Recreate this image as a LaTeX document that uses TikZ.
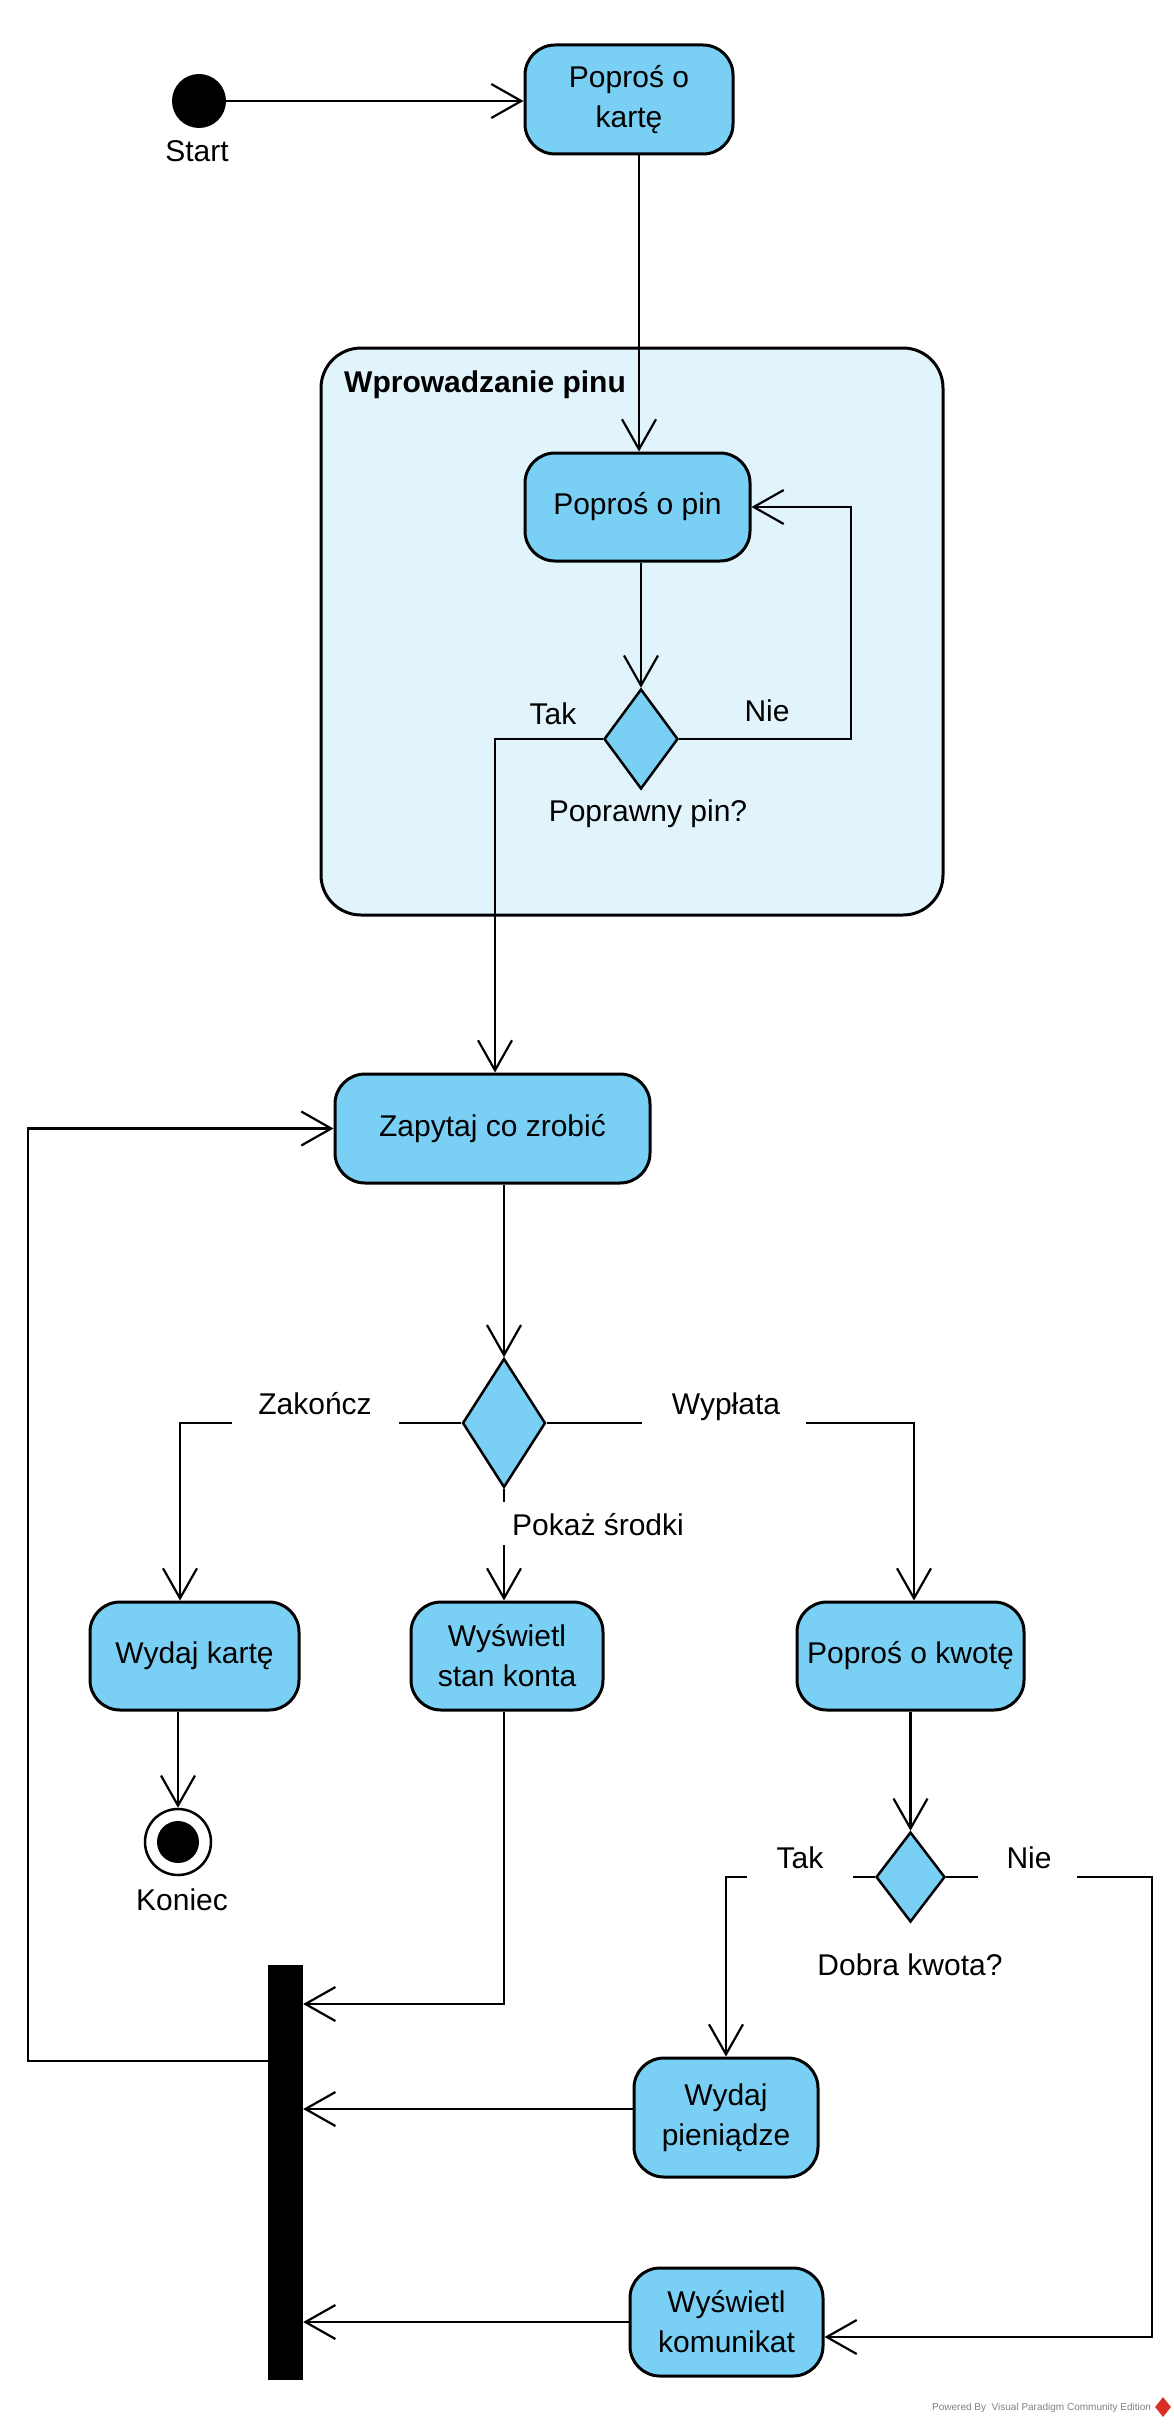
\documentclass[tikz,border=0pt]{standalone}
\usepackage{fontspec}
\setmainfont{Liberation Sans}
\usetikzlibrary{arrows.meta,shapes.geometric}
\definecolor{actfill}{RGB}{122,207,245}
\definecolor{contfill}{RGB}{225,244,252}
\definecolor{vpred}{RGB}{214,48,40}
\begin{document}
\begin{tikzpicture}[x=1pt,y=-1pt,
  every node/.style={font=\fontsize{30}{40}\selectfont},
  act/.style={draw, line width=3pt, fill=actfill, rounded corners=30pt, align=center, inner sep=0pt},
  dec/.style={draw, diamond, line width=2.5pt, fill=actfill, inner sep=0pt},
  arr/.style={line width=2.2pt, -{Straight Barb[length=30pt,width=34pt]}},
  mask/.style={fill=white},
  txt/.style={inner sep=0pt}]
\useasboundingbox (0,0) rectangle (1173,2424);

% container
\node[draw, line width=3pt, fill=contfill, rounded corners=40pt, minimum width=622pt, minimum height=567pt, inner sep=0pt] (cont) at (632,631.5) {};
\node[txt, anchor=west, font=\fontsize{30}{40}\selectfont\bfseries] (title) at (344,385) {Wprowadzanie pinu};

% start
\node[circle, fill=black, minimum size=54pt, inner sep=0pt] (start) at (199,101) {};
\node[txt] (startl) at (197,151) {Start};

% activities
\node[act, minimum width=208pt, minimum height=109pt] (kart) at (629,99.5) {Poproś o\\kartę};
\node[act, minimum width=225pt, minimum height=108pt] (pin) at (637.5,507) {Poproś o pin};
\node[dec, minimum width=74pt, minimum height=100pt] (dec1) at (641,739) {};
\node[txt] (dec1l) at (648,814) {Poprawny pin?};

\node[act, minimum width=315pt, minimum height=109pt] (zap) at (492.5,1128.5) {Zapytaj co zrobić};
\node[dec, minimum width=83pt, minimum height=129pt] (dec2) at (504,1423) {};

\node[act, minimum width=209pt, minimum height=108pt] (wk) at (194.5,1656) {Wydaj kartę};
\node[act, minimum width=192pt, minimum height=108pt] (wsk) at (507,1656) {Wyświetl\\stan konta};
\node[act, minimum width=227pt, minimum height=108pt] (pk) at (910.5,1656) {Poproś o kwotę};

\node[circle, draw, line width=2.5pt, fill=white, minimum size=66pt, inner sep=0pt] (end) at (178,1842) {};
\node[circle, fill=black, minimum size=42pt, inner sep=0pt] (endin) at (end) {};
\node[txt] (endl) at (182,1900) {Koniec};

\node[fill=black, minimum width=35pt, minimum height=415pt, inner sep=0pt] (bar) at (285.5,2172.5) {};

\node[dec, minimum width=69pt, minimum height=90pt] (dec3) at (910.5,1877) {};
\node[txt] (dec3l) at (910,1965) {Dobra kwota?};

\node[act, minimum width=184pt, minimum height=119pt] (wp) at (726,2117.5) {Wydaj\\pieniądze};
\node[act, minimum width=193pt, minimum height=108pt] (wkom) at (726.5,2322) {Wyświetl\\komunikat};

% bend coordinates
\coordinate (c1) at (851,507);
\coordinate (c2) at (28,2061);
\coordinate (c3) at (1152,2337);

% connectors
\draw[arr] (start.east) -- (kart.west |- start.east);
\draw[arr] ([xshift=10pt]kart.south) -- ([xshift=1.5pt]pin.north);
\draw[arr] (pin.south -| dec1.north) -- (dec1.north);
\draw[arr] (dec1.east) -| (c1) -- (pin.east);
\draw[arr] (dec1.west) -| ([xshift=2.5pt]zap.north);
\draw[arr] (zap.south -| dec2.north) -- (dec2.north);
\draw[arr] (dec2.west) -| ([xshift=-14.5pt]wk.north);
\draw[arr] (dec2.east) -| ([xshift=3.5pt]pk.north);
\draw[arr] (dec2.south) -- (dec2.south |- wsk.north);
\draw[arr] (wk.south -| end.north) -- (end.north);
\draw[arr] ([xshift=-3pt]wsk.south) |- ([yshift=168.5pt]bar.east);
\draw[arr] ([yshift=111.5pt]bar.west) -- (c2) |- (zap.west);
\draw[arr] (pk.south -| dec3.north) -- (dec3.north);
\draw[arr] (dec3.west) -| (wp.north);
\draw[arr] (dec3.east) -| (c3) -- ([yshift=-15pt]wkom.east);
\draw[arr] ([yshift=8.5pt]wp.west) -- ([yshift=8.5pt]wp.west -| bar.east);
\draw[arr] (wkom.west) -- (wkom.west -| bar.east);

% label backgrounds (thin the lines under the guard labels)
\fill[mask] (232,1410) rectangle (399,1423.8);
\fill[mask] (642,1410) rectangle (806,1423.8);
\fill[mask] (747,1864) rectangle (853,1877.8);
\fill[mask] (978,1864) rectangle (1077,1877.8);
\fill[mask] (494,1502) rectangle (516,1545);

% labels
\node[txt] (tak1) at (553,714) {Tak};
\node[txt] (nie1) at (767,711) {Nie};
\node[txt] (zak) at (315,1404) {Zakończ};
\node[txt] (wyp) at (726,1407) {Wypłata};
\node[txt] (pok) at (598,1525) {Pokaż środki};
\node[txt] (tak2) at (800,1858) {Tak};
\node[txt] (nie2) at (1029,1858) {Nie};

% footer
\node[txt, anchor=west, font=\fontsize{10}{12}\selectfont, text=gray] (vp) at (932,2408) {Powered By\ \ Visual Paradigm Community Edition};
\node[diamond, fill=vpred, minimum width=16pt, minimum height=20pt, inner sep=0pt] (logo) at (1163,2407) {};
\end{tikzpicture}
\end{document}
